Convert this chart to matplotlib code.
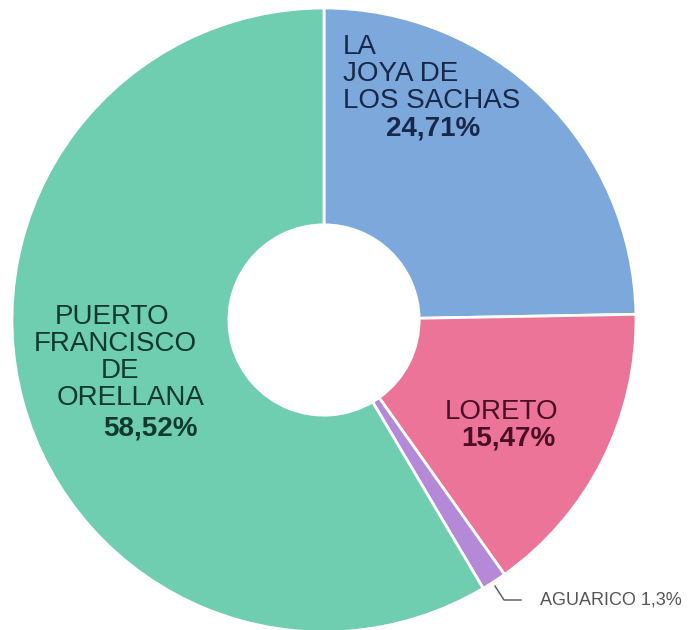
import matplotlib.pyplot as plt

plt.rcParams['font.family'] = ['Liberation Sans', 'DejaVu Sans']

cantones = ['LA\nJOYA DE\nLOS SACHAS', 'LORETO', 'AGUARICO', 'PUERTO\nFRANCISCO\nDE\nORELLANA']
porcentajes = [24.71, 15.47, 1.3, 58.52]
etiquetas_pct = ['24,71%', '15,47%', '1,3%', '58,52%']
colores = ['#7ca8dc', '#ec7499', '#b48ad8', '#6fcdb0']
colores_texto = ['#17284a', '#4a0f25', '#555555', '#0e3a2c']

fig = plt.figure(figsize=(6.91, 6.3), dpi=100)
ax = fig.add_axes([0, 0, 1, 1])

centro = (324, 310)
radio = 312
wedges, _ = ax.pie(porcentajes, colors=colores, startangle=90, counterclock=False,
                   center=centro, radius=radio, frame=True,
                   wedgeprops=dict(width=radio * 0.695, edgecolor='white', linewidth=2))
ax.set_xlim(0, 691)
ax.set_ylim(0, 630)
ax.set_aspect('equal')
ax.axis('off')

fs = 20

# LA JOYA DE LOS SACHAS
ax.text(343, 630 - 74, cantones[0], ha='left', va='center', fontsize=fs,
        color=colores_texto[0], linespacing=1.05)
ax.text(433, 630 - 129, etiquetas_pct[0], ha='center', va='center', fontsize=fs,
        fontweight='bold', color=colores_texto[0])

# LORETO
ax.text(502, 630 - 412, cantones[1], ha='center', va='center', fontsize=fs,
        color=colores_texto[1])
ax.text(508, 630 - 439, etiquetas_pct[1], ha='center', va='center', fontsize=fs,
        fontweight='bold', color=colores_texto[1])

# PUERTO FRANCISCO DE ORELLANA, una linea a la vez
lineas = cantones[3].split('\n')
xs = [112, 115, 120, 131]
ys = [317, 344, 371, 398]
for linea, x, y in zip(lineas, xs, ys):
    ax.text(x, 630 - y, linea, ha='center', va='center', fontsize=fs,
            color=colores_texto[3])
ax.text(150, 630 - 428, etiquetas_pct[3], ha='center', va='center', fontsize=fs,
        fontweight='bold', color=colores_texto[3])

# AGUARICO con linea guia
ax.plot([495, 504, 521], [630 - 586, 630 - 600, 630 - 600], color='#555555', lw=1)
ax.text(540, 630 - 600, cantones[2] + ' ' + etiquetas_pct[2], ha='left', va='center',
        fontsize=13, color=colores_texto[2])

fig.savefig('out.png', dpi=100)
